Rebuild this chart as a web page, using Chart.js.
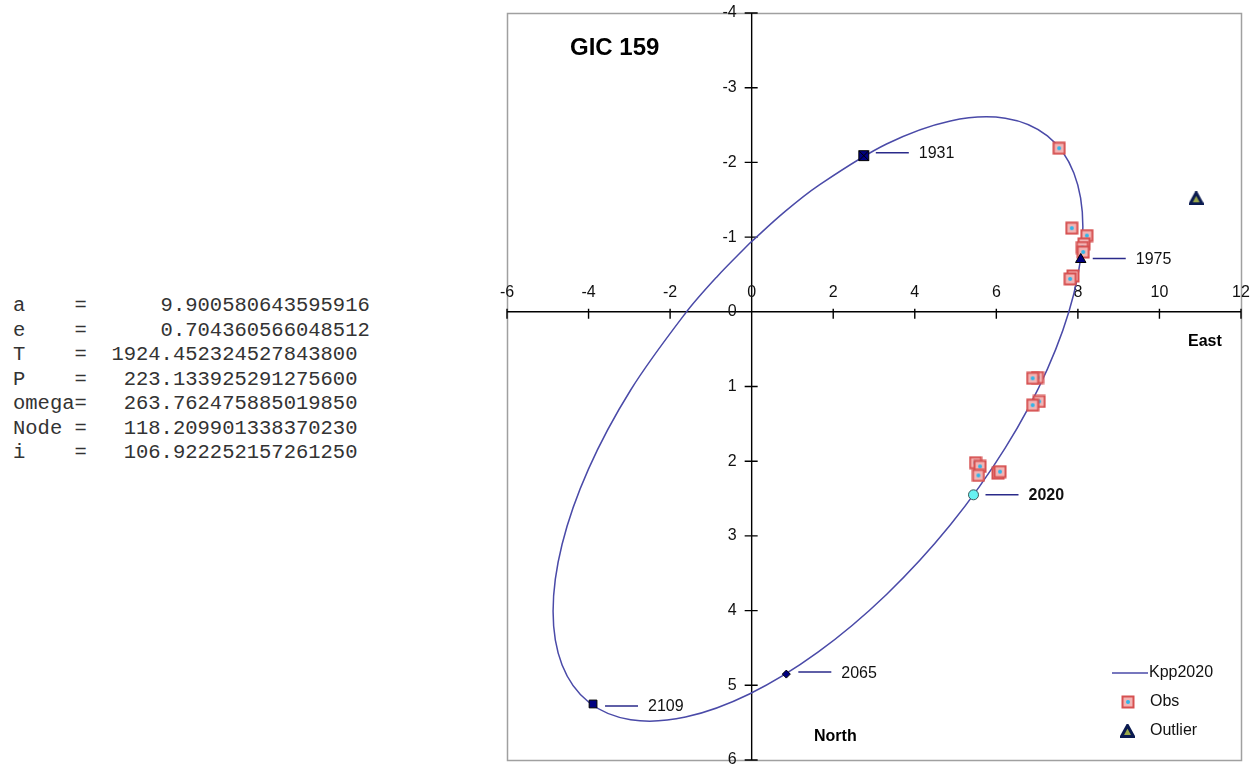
<!DOCTYPE html>
<html>
<head>
<meta charset="utf-8">
<script src="https://cdn.jsdelivr.net/npm/chart.js@4"></script>
<style>
  body { margin: 0; background: #fff; width: 1256px; height: 768px; overflow: hidden; position: relative; }
  #elements { position: absolute; left: 13px; top: 294px; margin: 0;
    font-family: "Liberation Mono", "Courier New", monospace; font-size: 20.5px; line-height: 24.5px; color: #333; }
  #orbit { position: absolute; left: 0; top: 0; }
</style>
</head>
<body>
<pre id="elements">a    =      9.900580643595916
e    =      0.704360566048512
T    =  1924.452324527843800
P    =   223.133925291275600
omega=   263.762475885019850
Node =   118.209901338370230
i    =   106.922252157261250</pre>
<canvas id="orbit" width="1256" height="768"></canvas>
<script>
// apparent orbit (East, North in arcsec); first and last point are the same
var orbitEast = [-0.055, 0.778, 1.626, 3.307, 4.874, 6.219, 7.252, 7.901, 8.122, 7.901, 7.252, 6.219, 4.874,
  3.307, 1.626, -0.055, -1.622, -2.967, -4.000, -4.649, -4.870, -4.649, -4.000, -2.967, -1.622,
  -0.860, -0.055];
var orbitNorth = [-0.914, -1.324, -1.686, -2.246, -2.555, -2.591, -2.354, -1.858, -1.138, -0.242, 0.767, 1.823, 2.852,
  3.784, 4.556, 5.116, 5.425, 5.461, 5.224, 4.728, 4.008, 3.112, 2.103, 1.047, 0.018,
  -0.464, -0.914];

var obsEast = [7.54, 7.85, 8.22, 8.15, 8.11, 8.13, 7.88, 7.81, 7.01, 6.89, 7.05, 6.89, 5.49, 5.60, 5.56, 6.04, 6.09];
var obsNorth = [-2.19, -1.12, -1.02, -0.91, -0.86, -0.80, -0.48, -0.44, 0.88, 0.89, 1.20, 1.25, 2.02, 2.07, 2.19, 2.16, 2.14];

var outlierEast = [10.90];
var outlierNorth = [-1.52];

var yearLabels = ['1931', '1975', '2020', '2065', '2109'];
var yearEast = [2.75, 8.07, 5.44, 0.85, -3.89];
var yearNorth = [-2.09, -0.70, 2.45, 4.85, 5.25];

var xTicks = [-6, -4, -2, 0, 2, 4, 6, 8, 10, 12];
var yTicks = [-4, -3, -2, -1, 0, 1, 2, 3, 4, 5, 6];

var FONT = '"Liberation Sans", Arial, sans-serif';
var NAVY = '#000080';
var LINE = '#4a4aa8';

function pts(xs, ys) {
  return xs.map(function (x, i) { return { x: x, y: ys[i] }; });
}

// marker images
function obsIcon() {
  var c = document.createElement('canvas');
  c.width = 14; c.height = 14;
  var g = c.getContext('2d');
  g.fillStyle = '#f3b4b4';
  g.fillRect(1, 1, 12, 12);
  g.strokeStyle = '#d65050';
  g.lineWidth = 2;
  g.strokeRect(1.5, 1.5, 11, 11);
  g.fillStyle = '#2fb5ea';
  g.beginPath(); g.arc(7, 7, 2, 0, Math.PI * 2); g.fill();
  return c;
}
function outlierIcon() {
  var c = document.createElement('canvas');
  c.width = 15; c.height = 14;
  var g = c.getContext('2d');
  g.beginPath(); g.moveTo(7.5, 1.5); g.lineTo(13.5, 12.5); g.lineTo(1.5, 12.5); g.closePath();
  g.fillStyle = '#9aa84a'; g.fill();
  g.strokeStyle = '#0a1a50'; g.lineWidth = 3; g.stroke();
  return c;
}
var obsImg = obsIcon();
var outImg = outlierIcon();

var yearStyle = [
  { style: 'rect', r: 7, bg: NAVY, bc: '#000' },
  { style: 'triangle', r: 6, bg: NAVY, bc: '#000' },
  { style: 'circle', r: 5, bg: '#66f2f2', bc: '#3d5a5a' },
  { style: 'rectRot', r: 4, bg: NAVY, bc: '#000' },
  { style: 'rect', r: 5.5, bg: NAVY, bc: '#000' }
];

var axesPlugin = {
  id: 'axesPlugin',
  beforeDatasetsDraw: function (chart) {
    var ctx = chart.ctx, xs = chart.scales.x, ys = chart.scales.y, a = chart.chartArea;
    var x0 = xs.getPixelForValue(0), y0 = ys.getPixelForValue(0);
    ctx.save();
    ctx.strokeStyle = '#a0a0a0';
    ctx.lineWidth = 1.5;
    ctx.strokeRect(a.left + 0.5, a.top + 0.5, a.right - a.left, a.bottom - a.top);

    ctx.strokeStyle = '#000';
    ctx.lineWidth = 1.4;
    ctx.beginPath();
    ctx.moveTo(a.left, y0); ctx.lineTo(a.right, y0);
    ctx.moveTo(x0, a.top); ctx.lineTo(x0, a.bottom);
    xTicks.forEach(function (v) {
      var p = xs.getPixelForValue(v);
      ctx.moveTo(p, y0 - 3); ctx.lineTo(p, y0 + 7);
    });
    yTicks.forEach(function (v) {
      var p = ys.getPixelForValue(v);
      ctx.moveTo(x0 - 7, p); ctx.lineTo(x0 + 6, p);
    });
    ctx.stroke();

    ctx.fillStyle = '#111';
    ctx.font = '16px ' + FONT;
    ctx.textBaseline = 'middle';
    ctx.textAlign = 'center';
    xTicks.forEach(function (v) {
      ctx.fillText(String(v), xs.getPixelForValue(v), y0 - 19);
    });
    ctx.textAlign = 'right';
    yTicks.forEach(function (v) {
      ctx.fillText(String(v), x0 - 15, ys.getPixelForValue(v));
    });

    ctx.font = 'bold 24px ' + FONT;
    ctx.textAlign = 'left';
    ctx.fillStyle = '#000';
    ctx.fillText('GIC 159', 570, 48);
    ctx.font = 'bold 16px ' + FONT;
    ctx.fillText('East', 1188, 342);
    ctx.fillText('North', 814, 737);
    ctx.restore();
  },
  afterDatasetsDraw: function (chart) {
    var ctx = chart.ctx, xs = chart.scales.x, ys = chart.scales.y;
    ctx.save();
    ctx.strokeStyle = '#2a2a8a';
    ctx.lineWidth = 1.5;
    ctx.textBaseline = 'middle';
    ctx.textAlign = 'left';
    var dy = [-3, -1, 0, -2, 2];
    yearLabels.forEach(function (lab, i) {
      var px = xs.getPixelForValue(yearEast[i]), py = ys.getPixelForValue(yearNorth[i]) + dy[i];
      ctx.beginPath();
      ctx.moveTo(px + 12, py); ctx.lineTo(px + 45, py);
      ctx.stroke();
      ctx.font = (lab === '2020' ? 'bold ' : '') + '16px ' + FONT;
      ctx.fillStyle = '#111';
      ctx.fillText(lab, px + 55, py + 1);
    });
    // 1931 cross on its square
    var cx = xs.getPixelForValue(yearEast[0]), cy = ys.getPixelForValue(yearNorth[0]);
    ctx.strokeStyle = '#000';
    ctx.lineWidth = 1;
    ctx.beginPath();
    ctx.moveTo(cx - 5, cy - 5); ctx.lineTo(cx + 5, cy + 5);
    ctx.moveTo(cx + 5, cy - 5); ctx.lineTo(cx - 5, cy + 5);
    ctx.stroke();

    // legend
    var names = chart.data.datasets.slice(0, 3).map(function (d) { return d.label; });
    ctx.font = '16px ' + FONT;
    ctx.fillStyle = '#111';
    ctx.strokeStyle = LINE;
    ctx.lineWidth = 1.5;
    ctx.beginPath(); ctx.moveTo(1112, 673); ctx.lineTo(1148, 673); ctx.stroke();
    ctx.fillText(names[0], 1149, 673);
    ctx.drawImage(obsImg, 1121, 695);
    ctx.fillText(names[1], 1150, 702);
    ctx.drawImage(outImg, 1120, 724);
    ctx.fillText(names[2], 1150, 731);
    ctx.restore();
  }
};

var datasets = [
  { label: 'Kpp2020', data: pts(orbitEast, orbitNorth), showLine: true, tension: 0.34,
    borderColor: LINE, borderWidth: 1.5, pointRadius: 0, fill: false, order: 5 },
  { label: 'Obs', data: pts(obsEast, obsNorth), pointStyle: obsImg, pointRadius: 7, order: 4 },
  { label: 'Outlier', data: pts(outlierEast, outlierNorth), pointStyle: outImg, pointRadius: 7, order: 4 }
];
yearLabels.forEach(function (lab, i) {
  var s = yearStyle[i];
  datasets.push({ label: lab, data: [{ x: yearEast[i], y: yearNorth[i] }], pointStyle: s.style,
    pointRadius: s.r, backgroundColor: s.bg, borderColor: s.bc, borderWidth: 1, order: 1 });
});

new Chart(document.getElementById('orbit'), {
  type: 'scatter',
  data: { datasets: datasets },
  options: {
    responsive: false,
    animation: false,
    layout: { padding: { left: 507, top: 13, right: 15, bottom: 5 } },
    scales: {
      x: { type: 'linear', min: -6, max: 12, display: false },
      y: { type: 'linear', min: -4, max: 6, reverse: true, display: false }
    },
    plugins: { legend: { display: false }, tooltip: { enabled: false } }
  },
  plugins: [axesPlugin]
});
</script>
</body>
</html>
